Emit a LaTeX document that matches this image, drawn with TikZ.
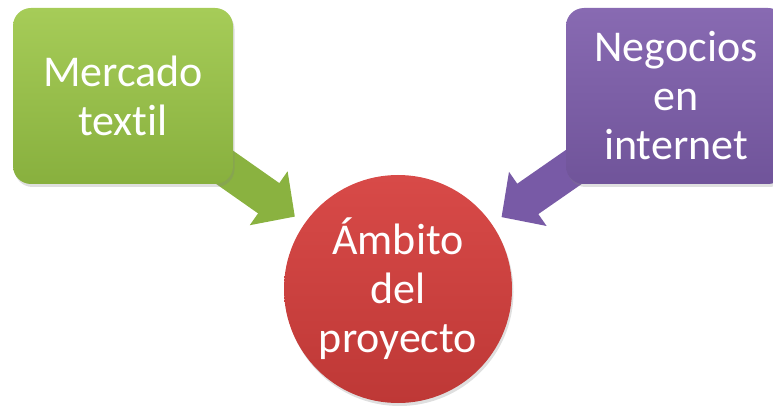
\documentclass[tikz,border=0pt]{standalone}
\usepackage{fontspec}
\setmainfont{Carlito}[Ligatures=NoCommon]
\usepackage{tikz}
\usetikzlibrary{positioning, arrows.meta, calc, shadows, backgrounds}

\definecolor{gtop}{RGB}{166,204,88}
\definecolor{gbot}{RGB}{136,176,62}
\definecolor{garr}{RGB}{138,178,64}
\definecolor{ptop}{RGB}{136,106,178}
\definecolor{pbot}{RGB}{112,84,154}
\definecolor{parr}{RGB}{120,90,166}
\definecolor{rtop}{RGB}{216,74,72}
\definecolor{rbot}{RGB}{190,56,54}

\begin{document}
\begin{tikzpicture}[
  x=1pt, y=-1pt,
  every node/.style={font=\fontsize{44}{49}\selectfont, text=white},
  topbox/.style={rounded corners=18pt, minimum width=220pt,
    minimum height=176pt, align=center, inner sep=0pt,
    drop shadow={opacity=0.25, shadow xshift=1.5pt, shadow yshift=-3pt}},
  ambito/.style={circle, minimum size=228pt, align=center, inner sep=0pt,
    top color=rtop, bottom color=rbot,
    drop shadow={opacity=0.25, shadow xshift=1.5pt, shadow yshift=-3pt}},
  fatarr/.style={line width=37pt,
    -{Triangle[length=32pt, width=64pt]}},
]
\useasboundingbox (0,0) rectangle (773,406);

%% inputs
\node[topbox, top color=gtop, bottom color=gbot] (merc) at (123,96)
  {Mercado\\textil};
\node[topbox, top color=ptop, bottom color=pbot] (neg) at (676,96)
  {Negocios\\en\\internet};

%% project scope
\node[ambito] (amb) at (398,289) {Ámbito\\del\\proyecto};

%% arrows behind the boxes
\begin{pgfonlayer}{background}
\draw[fatarr, garr] (merc.center) -- ($(amb.center)!126pt!(merc.center)$);
\draw[fatarr, parr] (neg.center) -- ($(amb.center)!126pt!(neg.center)$);
\end{pgfonlayer}

\end{tikzpicture}
\end{document}
